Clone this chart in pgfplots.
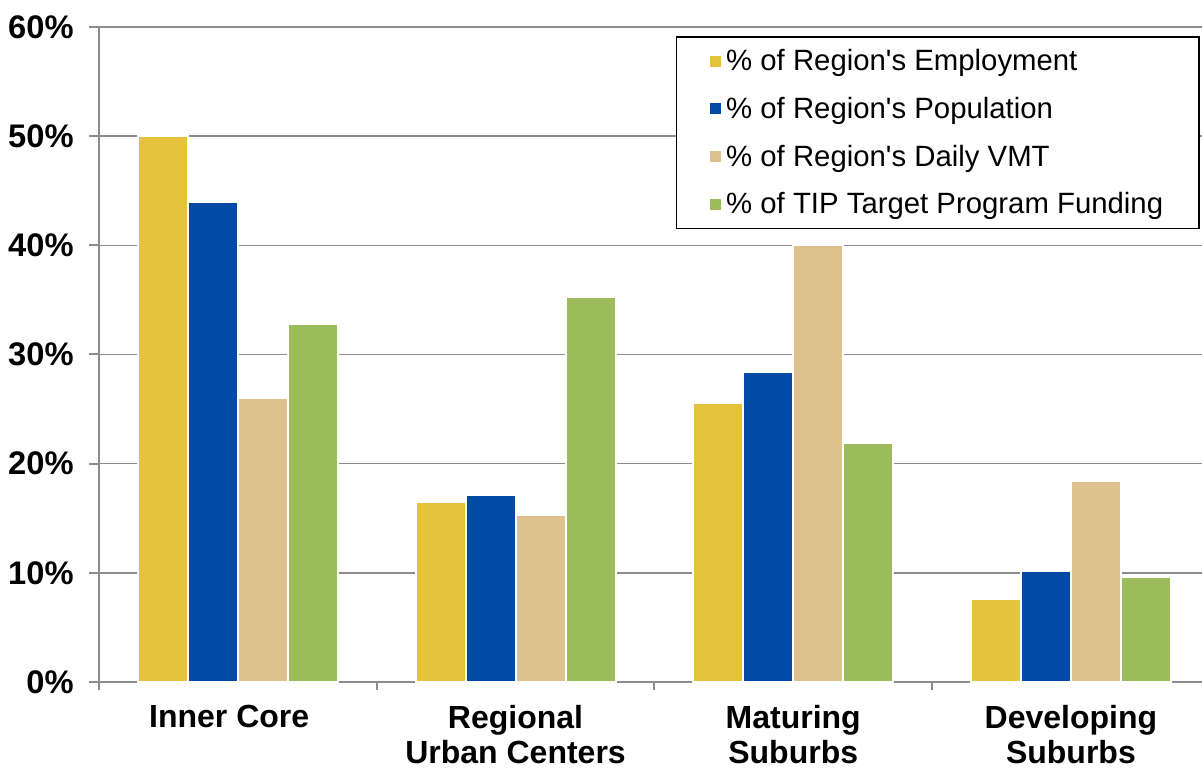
\documentclass[border=0pt]{standalone}
\usepackage{fontspec}
\setmainfont{Liberation Sans}[Ligatures=TeXOff]
\usepackage{pgfplots}
\pgfplotsset{compat=1.18}
\definecolor{cY}{HTML}{E5C33A}
\definecolor{cB}{HTML}{034AA5}
\definecolor{cT}{HTML}{DEC28E}
\definecolor{cG}{HTML}{9CBB5A}
\definecolor{axgray}{HTML}{8C8C8C}
\begin{document}
\begin{tikzpicture}
\useasboundingbox (-74.25pt,-66pt) rectangle (827.25pt,511.5pt);
\begin{axis}[
  scale only axis,
  width=827.25pt, height=491.25pt,
  at={(0,0)}, anchor=south west,
  xmin=-0.5, xmax=3.472,
  ymin=0, ymax=60,
  ybar,
  bar width=0.18,
  axis x line=bottom, axis y line=left,
  axis line style={axgray, line width=1.5pt, -},
  ymajorgrids,
  grid style={axgray, line width=1.2pt},
  ytick={0,10,...,60},
  yticklabel={\pgfmathprintnumber{\tick}\%},
  /pgf/number format/assume math mode=true,
  yticklabel style={font=\fontsize{24.5}{28}\selectfont\bfseries, xshift=-8pt},
  xtick={0,1,2,3},
  xticklabels={Inner Core\hspace*{13pt}, Regional\\Urban Centers, Maturing\\Suburbs, Developing\\Suburbs},
  xticklabel style={font=\fontsize{24}{26}\selectfont\bfseries, align=center, anchor=north, yshift=-6.5pt},
  major x tick style={draw=none},
  minor xtick={-0.5,0.5,1.5,2.5},
  minor x tick style={axgray, line width=1.5pt},
  minor tick length=6pt,
  major y tick style={axgray, line width=1.5pt},
  major tick length=7.5pt,
  tick align=outside,
  legend style={at={(0.523,0.986)}, anchor=north west, draw=black, line width=1pt,
    font=\fontsize{22}{26}\selectfont, row sep=14.3pt, inner xsep=25pt, inner ysep=7.5pt},
  legend cell align=left,
  legend image code/.code={\fill[#1, draw=none] (0pt,-4.1pt) rectangle (8.2pt,4.1pt); \path (9.5pt,0);},
  every axis plot/.append style={draw=white, line width=1.5pt},
]
\addplot[fill=cY, bar shift=-0.27] coordinates {(0,50.0) (1,16.5) (2,25.6) (3,7.6)};
\addplot[fill=cB, bar shift=-0.09] coordinates {(0,44.0) (1,17.1) (2,28.4) (3,10.2)};
\addplot[fill=cT, bar shift=0.09] coordinates {(0,26.0) (1,15.3) (2,40.0) (3,18.4)};
\addplot[fill=cG, bar shift=0.27] coordinates {(0,32.8) (1,35.3) (2,21.9) (3,9.6)};
\legend{\% of Region's Employment, \% of Region's Population, \% of Region's Daily VMT, \% of TIP Target Program Funding}
\end{axis}
\end{tikzpicture}
\end{document}
